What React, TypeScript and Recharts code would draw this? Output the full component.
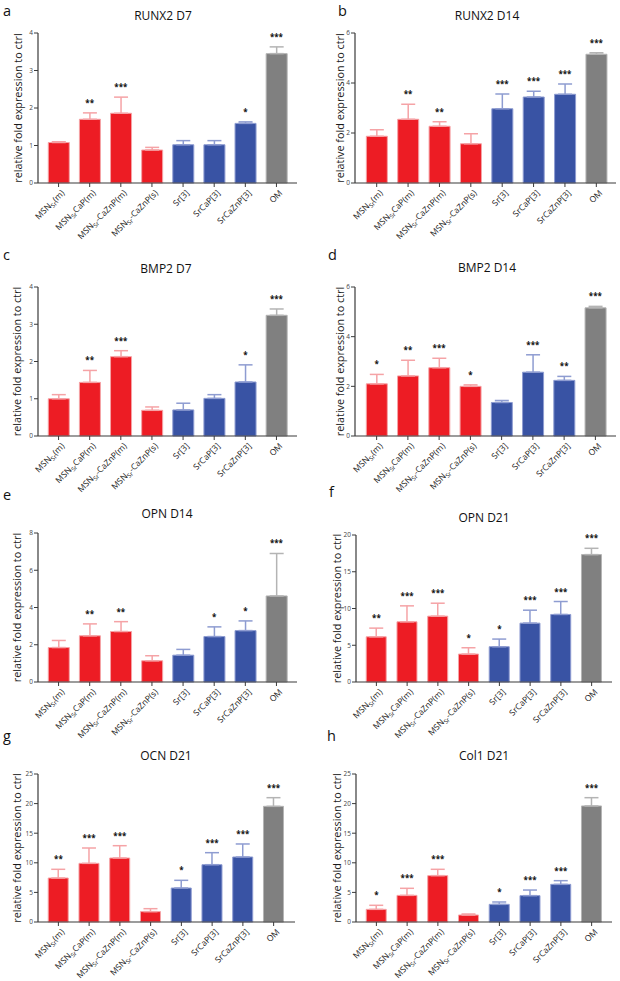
import React from "react";
import { ComposedChart, Bar, Line, XAxis, YAxis, ErrorBar, Cell, LabelList } from "recharts";

const categories = ["MSNSr(m)", "MSNSrCaP(m)", "MSNSr-CaZnP(m)", "MSNSr-CaZnP(s)", "Sr[3]", "SrCaP[3]", "SrCaZnP[3]", "OM"];
const groups = ["red", "red", "red", "red", "blue", "blue", "blue", "gray"];

const runx2D7Mean = [1.08, 1.7, 1.86, 0.88, 1.02, 1.02, 1.59, 3.45];
const runx2D7Sd = [0.02, 0.17, 0.43, 0.07, 0.11, 0.11, 0.04, 0.18];
const runx2D7Sig = ["", "**", "***", "", "", "", "*", "***"];

const runx2D14Mean = [1.87, 2.55, 2.27, 1.57, 2.97, 3.44, 3.55, 5.15];
const runx2D14Sd = [0.26, 0.6, 0.18, 0.4, 0.59, 0.23, 0.41, 0.06];
const runx2D14Sig = ["", "**", "**", "", "***", "***", "***", "***"];

const bmp2D7Mean = [1.0, 1.44, 2.13, 0.69, 0.7, 1.01, 1.45, 3.24];
const bmp2D7Sd = [0.11, 0.32, 0.16, 0.09, 0.18, 0.1, 0.46, 0.17];
const bmp2D7Sig = ["", "**", "***", "", "", "", "*", "***"];

const bmp2D14Mean = [2.1, 2.42, 2.75, 2.0, 1.35, 2.57, 2.24, 5.16];
const bmp2D14Sd = [0.38, 0.63, 0.38, 0.06, 0.08, 0.7, 0.16, 0.06];
const bmp2D14Sig = ["*", "**", "***", "*", "", "***", "**", "***"];

const opnD14Mean = [1.85, 2.48, 2.71, 1.14, 1.44, 2.44, 2.76, 4.62];
const opnD14Sd = [0.38, 0.64, 0.53, 0.27, 0.31, 0.52, 0.52, 2.28];
const opnD14Sig = ["", "**", "**", "", "", "*", "*", "***"];

const opnD21Mean = [6.15, 8.19, 8.96, 3.8, 4.8, 8.01, 9.19, 17.33];
const opnD21Sd = [1.18, 2.17, 1.76, 0.86, 1.04, 1.76, 1.76, 0.86];
const opnD21Sig = ["**", "***", "***", "*", "*", "***", "***", "***"];

const ocnD21Mean = [7.43, 9.91, 10.81, 1.75, 5.74, 9.68, 10.98, 19.54];
const ocnD21Sd = [1.47, 2.59, 2.08, 0.5, 1.3, 2.03, 2.2, 1.46];
const ocnD21Sig = ["**", "***", "***", "", "*", "***", "***", "***"];

const col1D21Mean = [2.14, 4.5, 7.83, 1.18, 2.98, 4.45, 6.36, 19.6];
const col1D21Sd = [0.68, 1.19, 1.07, 0.17, 0.4, 0.95, 0.62, 1.4];
const col1D21Sig = ["*", "***", "***", "", "*", "***", "***", "***"];

const fillColor: Record<string, string> = { red: "#ed1c24", blue: "#3953a4", gray: "#808080" };
const errColor: Record<string, string> = { red: "#f5a3a6", blue: "#8e9cd1", gray: "#b4b4b4" };

const FONT = "'Open Sans', 'Noto Sans', sans-serif";
const AXIS = "#3a3a3a";

const buildRows = (mean: number[], sd: number[], sig: string[]) =>
  categories.map((name, i) => ({
    name,
    group: groups[i],
    mean: mean[i],
    top: mean[i] + sd[i],
    sig: sig[i],
    errRed: groups[i] === "red" ? [0, sd[i]] : null,
    errBlue: groups[i] === "blue" ? [0, sd[i]] : null,
    errGray: groups[i] === "gray" ? [0, sd[i]] : null,
  }));

const panels = [
  { letter: "a", lx: 3, ly: 16, title: "RUNX2 D7", tx: 163, ty: 20, rows: buildRows(runx2D7Mean, runx2D7Sd, runx2D7Sig), yMax: 4, ticks: [0, 1, 2, 3, 4], col: 0, plotTop: 33, plotBottom: 183, axisX: 38, axisRight: 297, padL: 5, padR: 5, labOff: 2 },
  { letter: "b", lx: 338, ly: 16, title: "RUNX2 D14", tx: 487, ty: 20, rows: buildRows(runx2D14Mean, runx2D14Sd, runx2D14Sig), yMax: 6, ticks: [0, 2, 4, 6], col: 1, plotTop: 33, plotBottom: 183, axisX: 355, axisRight: 616, padL: 6, padR: 4, labOff: 7 },
  { letter: "c", lx: 3, ly: 260, title: "BMP2 D7", tx: 166, ty: 273, rows: buildRows(bmp2D7Mean, bmp2D7Sd, bmp2D7Sig), yMax: 4, ticks: [0, 1, 2, 3, 4], col: 0, plotTop: 287, plotBottom: 436, axisX: 38, axisRight: 297, padL: 5, padR: 5, labOff: 1.5 },
  { letter: "d", lx: 328, ly: 260, title: "BMP2 D14", tx: 487, ty: 272, rows: buildRows(bmp2D14Mean, bmp2D14Sd, bmp2D14Sig), yMax: 6, ticks: [0, 2, 4, 6], col: 1, plotTop: 287, plotBottom: 436, axisX: 355, axisRight: 616, padL: 6, padR: 5, labOff: 7 },
  { letter: "e", lx: 3, ly: 500, title: "OPN D14", tx: 167, ty: 518, rows: buildRows(opnD14Mean, opnD14Sd, opnD14Sig), yMax: 8, ticks: [0, 2, 4, 6, 8], col: 0, plotTop: 533, plotBottom: 682, axisX: 38, axisRight: 297, padL: 5, padR: 5, labOff: 1.5 },
  { letter: "f", lx: 329, ly: 497, title: "OPN D21", tx: 484, ty: 522, rows: buildRows(opnD21Mean, opnD21Sd, opnD21Sig), yMax: 20, ticks: [0, 5, 10, 15, 20], col: 1, plotTop: 535, plotBottom: 682, axisX: 356, axisRight: 612, padL: 5, padR: 5, labOff: 3 },
  { letter: "g", lx: 3, ly: 741, title: "OCN D21", tx: 166, ty: 760, rows: buildRows(ocnD21Mean, ocnD21Sd, ocnD21Sig), yMax: 25, ticks: [0, 5, 10, 15, 20, 25], col: 0, plotTop: 774, plotBottom: 922, axisX: 38, axisRight: 295, padL: 5, padR: 6, labOff: 1 },
  { letter: "h", lx: 327, ly: 741, title: "Col1 D21", tx: 484, ty: 760, rows: buildRows(col1D21Mean, col1D21Sd, col1D21Sig), yMax: 25, ticks: [0, 5, 10, 15, 20, 25], col: 1, plotTop: 774, plotBottom: 922, axisX: 356, axisRight: 612, padL: 5, padR: 5, labOff: 3 },
];

function CategoryTick(props: any) {
  const { x, y, payload } = props;
  const name: string = payload.value;
  const isMsn = name.startsWith("MSNSr");
  return (
    <g transform={`translate(${x + 3},${y + 1})`}>
      <text x={0} y={0} dy={5} textAnchor="end" transform="rotate(-45)" fontSize={8.5} fill="#222" fontFamily={FONT}>
        {isMsn ? (
          <>
            MSN
            <tspan fontSize={6} dy={2}>Sr</tspan>
            <tspan dy={-2}>{name.slice(5)}</tspan>
          </>
        ) : (
          name
        )}
      </text>
    </g>
  );
}

function Panel({ p }: { p: any }) {
  const x0 = p.col * 310;
  const chartTop = p.plotTop - 30;
  const h = p.plotBottom - p.plotTop + 30 + 62;
  return (
    <div style={{ position: "absolute", left: x0, top: chartTop }}>
      <ComposedChart
        width={310}
        height={h}
        data={p.rows}
        margin={{ top: 30, right: x0 + 310 - p.axisRight, bottom: 0, left: p.axisX - x0 - 22 }}
        barCategoryGap="17%"
      >
        <XAxis
          dataKey="name"
          interval={0}
          height={62}
          tick={<CategoryTick />}
          tickSize={4}
          padding={{ left: p.padL, right: p.padR }}
          axisLine={{ stroke: AXIS, strokeWidth: 1.2 }}
          tickLine={{ stroke: AXIS }}
        />
        <YAxis
          width={22}
          domain={[0, p.yMax]}
          ticks={p.ticks}
          tickSize={4}
          tickMargin={1}
          axisLine={{ stroke: AXIS, strokeWidth: 1.2 }}
          tickLine={{ stroke: AXIS }}
          tick={{ fontSize: 6.5, fill: "#444", fontFamily: FONT }}
          label={{
            value: "relative fold expression to ctrl",
            angle: -90,
            position: "insideLeft",
            offset: p.labOff,
            style: { textAnchor: "middle", fontSize: 10.8, fill: "#1a1a1a", fontFamily: FONT },
          }}
        />
        <Bar dataKey="mean" isAnimationActive={false}>
          {p.rows.map((r: any, i: number) => (
            <Cell key={i} fill={fillColor[r.group]} stroke={errColor[r.group]} strokeWidth={1} />
          ))}
          <ErrorBar dataKey="errRed" direction="y" width={7} stroke={errColor.red} strokeWidth={1.5} />
          <ErrorBar dataKey="errBlue" direction="y" width={7} stroke={errColor.blue} strokeWidth={1.5} />
          <ErrorBar dataKey="errGray" direction="y" width={7} stroke={errColor.gray} strokeWidth={1.5} />
        </Bar>
        <Line dataKey="top" stroke="none" dot={false} activeDot={false} isAnimationActive={false}>
          <LabelList dataKey="sig" position="top" offset={7} fontSize={8} fontWeight="bold" fill="#111" fontFamily={FONT} />
        </Line>
      </ComposedChart>
    </div>
  );
}

export default function App() {
  return (
    <div style={{ position: "absolute", left: 0, top: 0, width: 620, height: 981, background: "#fff", fontFamily: FONT }}>
      {panels.map((p) => (
        <Panel key={p.letter} p={p} />
      ))}
      <svg width={620} height={981} style={{ position: "absolute", left: 0, top: 0, pointerEvents: "none" }}>
        {panels.map((p) => (
          <g key={p.letter}>
            <text x={p.lx} y={p.ly} fontSize={14.5} fill="#111" fontFamily={FONT}>
              {p.letter}
            </text>
            <text x={p.tx} y={p.ty} fontSize={12} fill="#111" textAnchor="middle" fontFamily={FONT}>
              {p.title}
            </text>
          </g>
        ))}
      </svg>
    </div>
  );
}
